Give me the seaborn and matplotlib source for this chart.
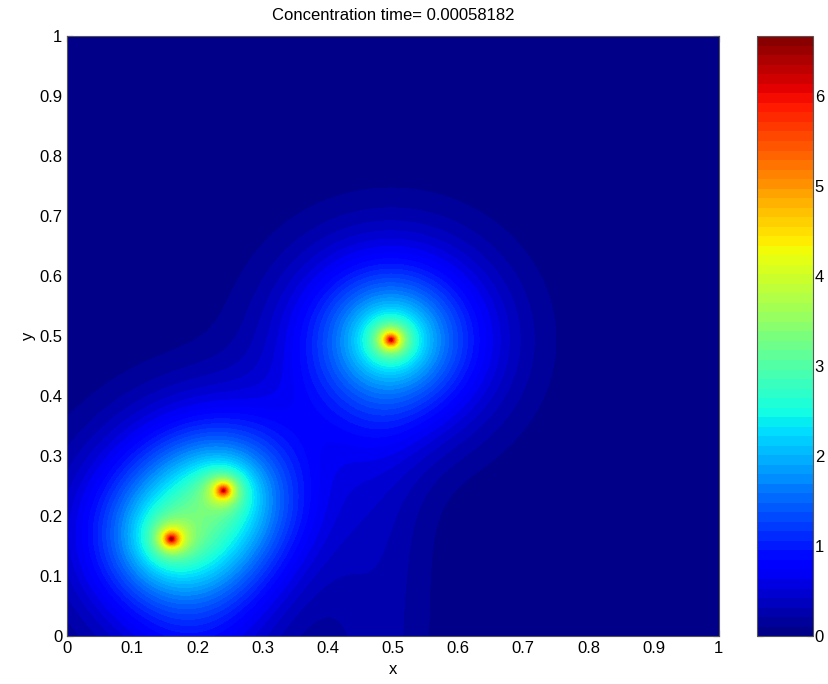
import numpy as np
import seaborn as sns
from matplotlib import pyplot as plt

# source locations
src_x = [0.160, 0.240, 0.497]
src_y = [0.162, 0.243, 0.494]
# profile amplitudes per source: sharp core, medium halo, broad halo
core_amp = [3.0, 3.0, 3.0]
mid_amp = [1.5, 1.5, 2.0]
broad_amp = [1.2, 1.2, 1.6]
broad_width = [0.145, 0.145, 0.15]

# faint tails reaching the bottom edge
tail_x = [0.20, 0.48]
tail_w = [0.12, 0.08]
tail_amp = [0.45, 0.25]
tail_top = [0.20, 0.40]

cbar_ticks = [0, 1, 2, 3, 4, 5, 6]
title = 'Concentration time= 0.00058182'

sns.set_style('white')
plt.rcParams['font.family'] = ['Liberation Sans', 'DejaVu Sans']
plt.rcParams['text.color'] = 'black'
plt.rcParams['axes.labelcolor'] = 'black'
plt.rcParams['xtick.color'] = 'black'
plt.rcParams['ytick.color'] = 'black'

x = np.linspace(0, 1, 401)
y = np.linspace(0, 1, 401)
X, Y = np.meshgrid(x, y)
C = np.zeros_like(X)
for i in range(len(src_x)):
    r = np.hypot(X - src_x[i], Y - src_y[i])
    C += core_amp[i] * np.exp(-r / 0.012)
    C += mid_amp[i] * np.exp(-r / 0.05)
    C += broad_amp[i] * np.exp(-(r / broad_width[i]) ** 2)
for i in range(len(tail_x)):
    C += tail_amp[i] * np.exp(-((X - tail_x[i]) / tail_w[i]) ** 2) / (1 + np.exp((Y - tail_top[i]) / 0.04))

fig = plt.figure(figsize=(8.29, 6.84), dpi=100)
ax = fig.add_axes([0.081, 0.070, 0.786, 0.877])
cax = fig.add_axes([0.913, 0.070, 0.068, 0.877])

levels = np.linspace(0, C.max(), 64)
cf = ax.contourf(X, Y, C, levels=levels, cmap='jet')
ax.set_xlim(0, 1)
ax.set_ylim(0, 1)
ax.set_xticks(np.arange(0, 1.01, 0.1))
ax.set_yticks(np.arange(0, 1.01, 0.1))
ax.set_xticklabels(['0', '0.1', '0.2', '0.3', '0.4', '0.5', '0.6', '0.7', '0.8', '0.9', '1'])
ax.set_yticklabels(['0', '0.1', '0.2', '0.3', '0.4', '0.5', '0.6', '0.7', '0.8', '0.9', '1'])
ax.tick_params(direction='in', length=4, labelsize=12, top=True, right=True, bottom=True, left=True)
ax.set_xlabel('x', fontsize=12, labelpad=4)
ax.set_ylabel('y', fontsize=12, labelpad=2)
ax.set_title(title, fontsize=12, pad=12)
for s in ax.spines.values():
    s.set_visible(True)
    s.set_color('#555555')
    s.set_linewidth(0.8)

cb = fig.colorbar(cf, cax=cax, ticks=cbar_ticks)
cb.ax.set_yticklabels([str(t) for t in cbar_ticks])
cb.ax.tick_params(direction='in', length=4, labelsize=12, pad=1, left=True, right=True)
cb.outline.set_edgecolor('#555555')
cb.outline.set_linewidth(0.8)

fig.savefig('out.png', dpi=100)
